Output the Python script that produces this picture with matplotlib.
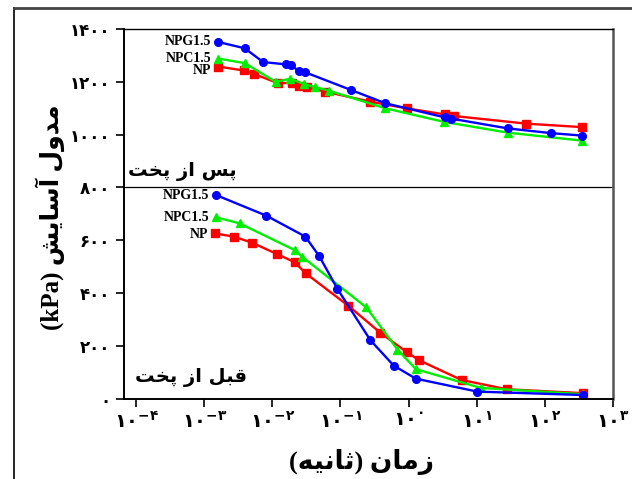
import numpy as np
import matplotlib
matplotlib.use('Agg')
import matplotlib.pyplot as plt
from matplotlib.lines import Line2D
from matplotlib.ticker import FixedLocator, FuncFormatter, NullLocator

plt.rcParams['mathtext.fontset'] = 'dejavusans'

# ---- data (time in seconds, modulus in kPa) ----
# after curing (upper group)
tAfterNPG = [0.00159, 0.00392, 0.0073, 0.0159, 0.0188, 0.0247, 0.0305, 0.144, 0.459, 3.38, 4.25, 28.8, 126, 350]
gAfterNPG = [1350, 1326, 1274, 1265, 1262, 1239, 1235, 1168, 1118, 1065, 1060, 1023, 1005, 996]
tAfterNPC = [0.00161, 0.00392, 0.0112, 0.0184, 0.0288, 0.0429, 0.0673, 0.459, 3.30, 28.8, 350]
gAfterNPC = [1287, 1270, 1199, 1211, 1191, 1179, 1166, 1099, 1048, 1007, 977]
tAfterNP = [0.00159, 0.00378, 0.00535, 0.0121, 0.0192, 0.0249, 0.0321, 0.0601, 0.276, 0.935, 3.38, 4.63, 53.8, 350]
gAfterNP = [1257, 1242, 1229, 1194, 1195, 1185, 1179, 1162, 1124, 1099, 1076, 1070, 1041, 1028]

# before curing (lower group)
tBeforeNPG = [0.00149, 0.00817, 0.0305, 0.0491, 0.0904, 0.276, 0.608, 1.28, 10.2, 372]
gBeforeNPG = [771, 693, 614, 539, 416, 222, 126, 77, 28, 15]
tBeforeNPC = [0.00149, 0.0033, 0.0213, 0.0274, 0.241, 0.689, 1.28, 11.5, 372]
gBeforeNPC = [687, 664, 563, 538, 346, 187, 113, 42, 18]
tBeforeNP = [0.00142, 0.0027, 0.00502, 0.0117, 0.0213, 0.0309, 0.130, 0.387, 0.935, 1.44, 6.01, 27.6, 371]
gBeforeNP = [626, 614, 591, 548, 517, 475, 353, 250, 178, 146, 72, 37, 22]

yTicks = [0, 200, 400, 600, 800, 1000, 1200, 1400]
xExps = [-4, -3, -2, -1, 0, 1, 2, 3]

# ---- simple persian shaping (matplotlib has no bidi / joining) ----
FORMS = {
    'ا': ('\uFE8D', '\uFE8E', None, None),
    'آ': ('\uFE81', '\uFE82', None, None),
    'ب': ('\uFE8F', '\uFE90', '\uFE91', '\uFE92'),
    'پ': ('\uFB56', '\uFB57', '\uFB58', '\uFB59'),
    'ت': ('\uFE95', '\uFE96', '\uFE97', '\uFE98'),
    'ث': ('\uFE99', '\uFE9A', '\uFE9B', '\uFE9C'),
    'خ': ('\uFEA5', '\uFEA6', '\uFEA7', '\uFEA8'),
    'د': ('\uFEA9', '\uFEAA', None, None),
    'ز': ('\uFEAF', '\uFEB0', None, None),
    'س': ('\uFEB1', '\uFEB2', '\uFEB3', '\uFEB4'),
    'ش': ('\uFEB5', '\uFEB6', '\uFEB7', '\uFEB8'),
    'ق': ('\uFED5', '\uFED6', '\uFED7', '\uFED8'),
    'ل': ('\uFEDD', '\uFEDE', '\uFEDF', '\uFEE0'),
    'م': ('\uFEE1', '\uFEE2', '\uFEE3', '\uFEE4'),
    'ن': ('\uFEE5', '\uFEE6', '\uFEE7', '\uFEE8'),
    'ه': ('\uFEE9', '\uFEEA', '\uFEEB', '\uFEEC'),
    'و': ('\uFEED', '\uFEEE', None, None),
    'ی': ('\uFBFC', '\uFBFD', '\uFBFE', '\uFBFF'),
}

def shapeWord(w):
    out = []
    for i, c in enumerate(w):
        if c not in FORMS:
            out.append(c)
            continue
        prev = w[i-1] if i > 0 else None
        nxt = w[i+1] if i + 1 < len(w) else None
        joinPrev = prev in FORMS and FORMS[prev][2] is not None
        joinNext = nxt in FORMS and FORMS[c][2] is not None
        f = FORMS[c]
        if joinPrev and joinNext:
            out.append(f[3])
        elif joinPrev:
            out.append(f[1])
        elif joinNext:
            out.append(f[2])
        else:
            out.append(f[0])
    return ''.join(reversed(out))

def fa(text):
    return ' '.join(shapeWord(w) for w in reversed(text.split(' ')))

faDigits = str.maketrans('0123456789-', '۰۱۲۳۴۵۶۷۸۹−')
def faNum(s):
    return str(s).translate(faDigits)

# ---- figure ----
fig = plt.figure(figsize=(6.32, 4.79), dpi=100)
ax = fig.add_axes([124/632, 1-399/479, (612.7-124)/632, (399-28.7)/479])

lw = 1.7
ms = 5.5
series = [
    (tAfterNP, gAfterNP, '#ff0000', 's'),
    (tAfterNPC, gAfterNPC, '#00ee00', '^'),
    (tAfterNPG, gAfterNPG, '#0000ff', 'o'),
    (tBeforeNP, gBeforeNP, '#ff0000', 's'),
    (tBeforeNPC, gBeforeNPC, '#00ee00', '^'),
    (tBeforeNPG, gBeforeNPG, '#0000ff', 'o'),
]
for t, g, col, mk in series:
    ax.plot(t, g, color=col, marker=mk, ms=ms, lw=lw, clip_on=False)

ax.axhline(800, color='black', lw=0.9)

ax.set_xscale('log')
ax.set_xlim(10**-4.18, 1e3)
ax.set_ylim(0, 1400)

ax.xaxis.set_major_locator(FixedLocator([10.0**e for e in xExps]))
ax.xaxis.set_minor_locator(NullLocator())
ax.xaxis.set_major_formatter(FuncFormatter(
    lambda v, p: r'$\mathbf{۱۰}^{\mathbf{%s}}$' % faNum(int(round(np.log10(v))))))
ax.yaxis.set_major_locator(FixedLocator(yTicks))
ax.yaxis.set_major_formatter(FuncFormatter(lambda v, p: faNum(int(v))))

ax.tick_params(direction='out', length=6, width=1.2, colors='black')
ax.tick_params(axis='x', pad=3, labelsize=14)
ax.tick_params(axis='y', labelsize=12, pad=4)
for lab in ax.get_yticklabels():
    lab.set_fontweight('bold')
    lab.set_family('DejaVu Sans')

for s in ['left', 'bottom']:
    ax.spines[s].set_linewidth(1.4)
ax.spines['top'].set_linewidth(1.0)
ax.spines['right'].set_linewidth(1.8)
ax.spines['right'].set_color('#555555')

# series names beside the first points
serif = 'Liberation Serif'
names = [
    (tAfterNPG[0], gAfterNPG[0], 'NPG1.5', 0),
    (tAfterNPC[0], gAfterNPC[0], 'NPC1.5', 0),
    (tAfterNP[0], gAfterNP[0], 'NP', -3),
    (tBeforeNPG[0], gBeforeNPG[0], 'NPG1.5', 0),
    (tBeforeNPC[0], gBeforeNPC[0], 'NPC1.5', 0),
    (tBeforeNP[0], gBeforeNP[0], 'NP', -1),
]
for t, g, name, dy in names:
    ax.annotate(name, (t, g), xytext=(-5, dy), textcoords='offset points',
                ha='right', va='center', fontsize=10, fontweight='bold', family=serif)

mixed = ['Liberation Serif', 'DejaVu Sans']
ax.text(0.008, 0.615, fa('پس از پخت'), transform=ax.transAxes, ha='left', va='center',
        fontsize=14, fontweight='bold', family='DejaVu Sans')
ax.text(0.022, 0.057, fa('قبل از پخت'), transform=ax.transAxes, ha='left', va='center',
        fontsize=14, fontweight='bold', family='DejaVu Sans')

ax.set_xlabel('(' + shapeWord('ثانیه') + ') ' + shapeWord('زمان'),
              fontsize=19, fontweight='bold', family=mixed)
ax.xaxis.set_label_coords(0.487, -0.135)
ax.set_ylabel('(kPa) ' + fa('مدول آسایش'), fontsize=18, fontweight='bold',
              family=mixed)
ax.yaxis.set_label_coords(-0.12, 0.49)

# outer frame (left and top edges visible)
fig.add_artist(Line2D([14/632, 14/632], [0, 1-8/479], transform=fig.transFigure, color='black', lw=1.2))
fig.add_artist(Line2D([14/632, 1], [1-8/479, 1-8/479], transform=fig.transFigure, color='#444444', lw=2.0))

fig.savefig('out.png', dpi=100)
